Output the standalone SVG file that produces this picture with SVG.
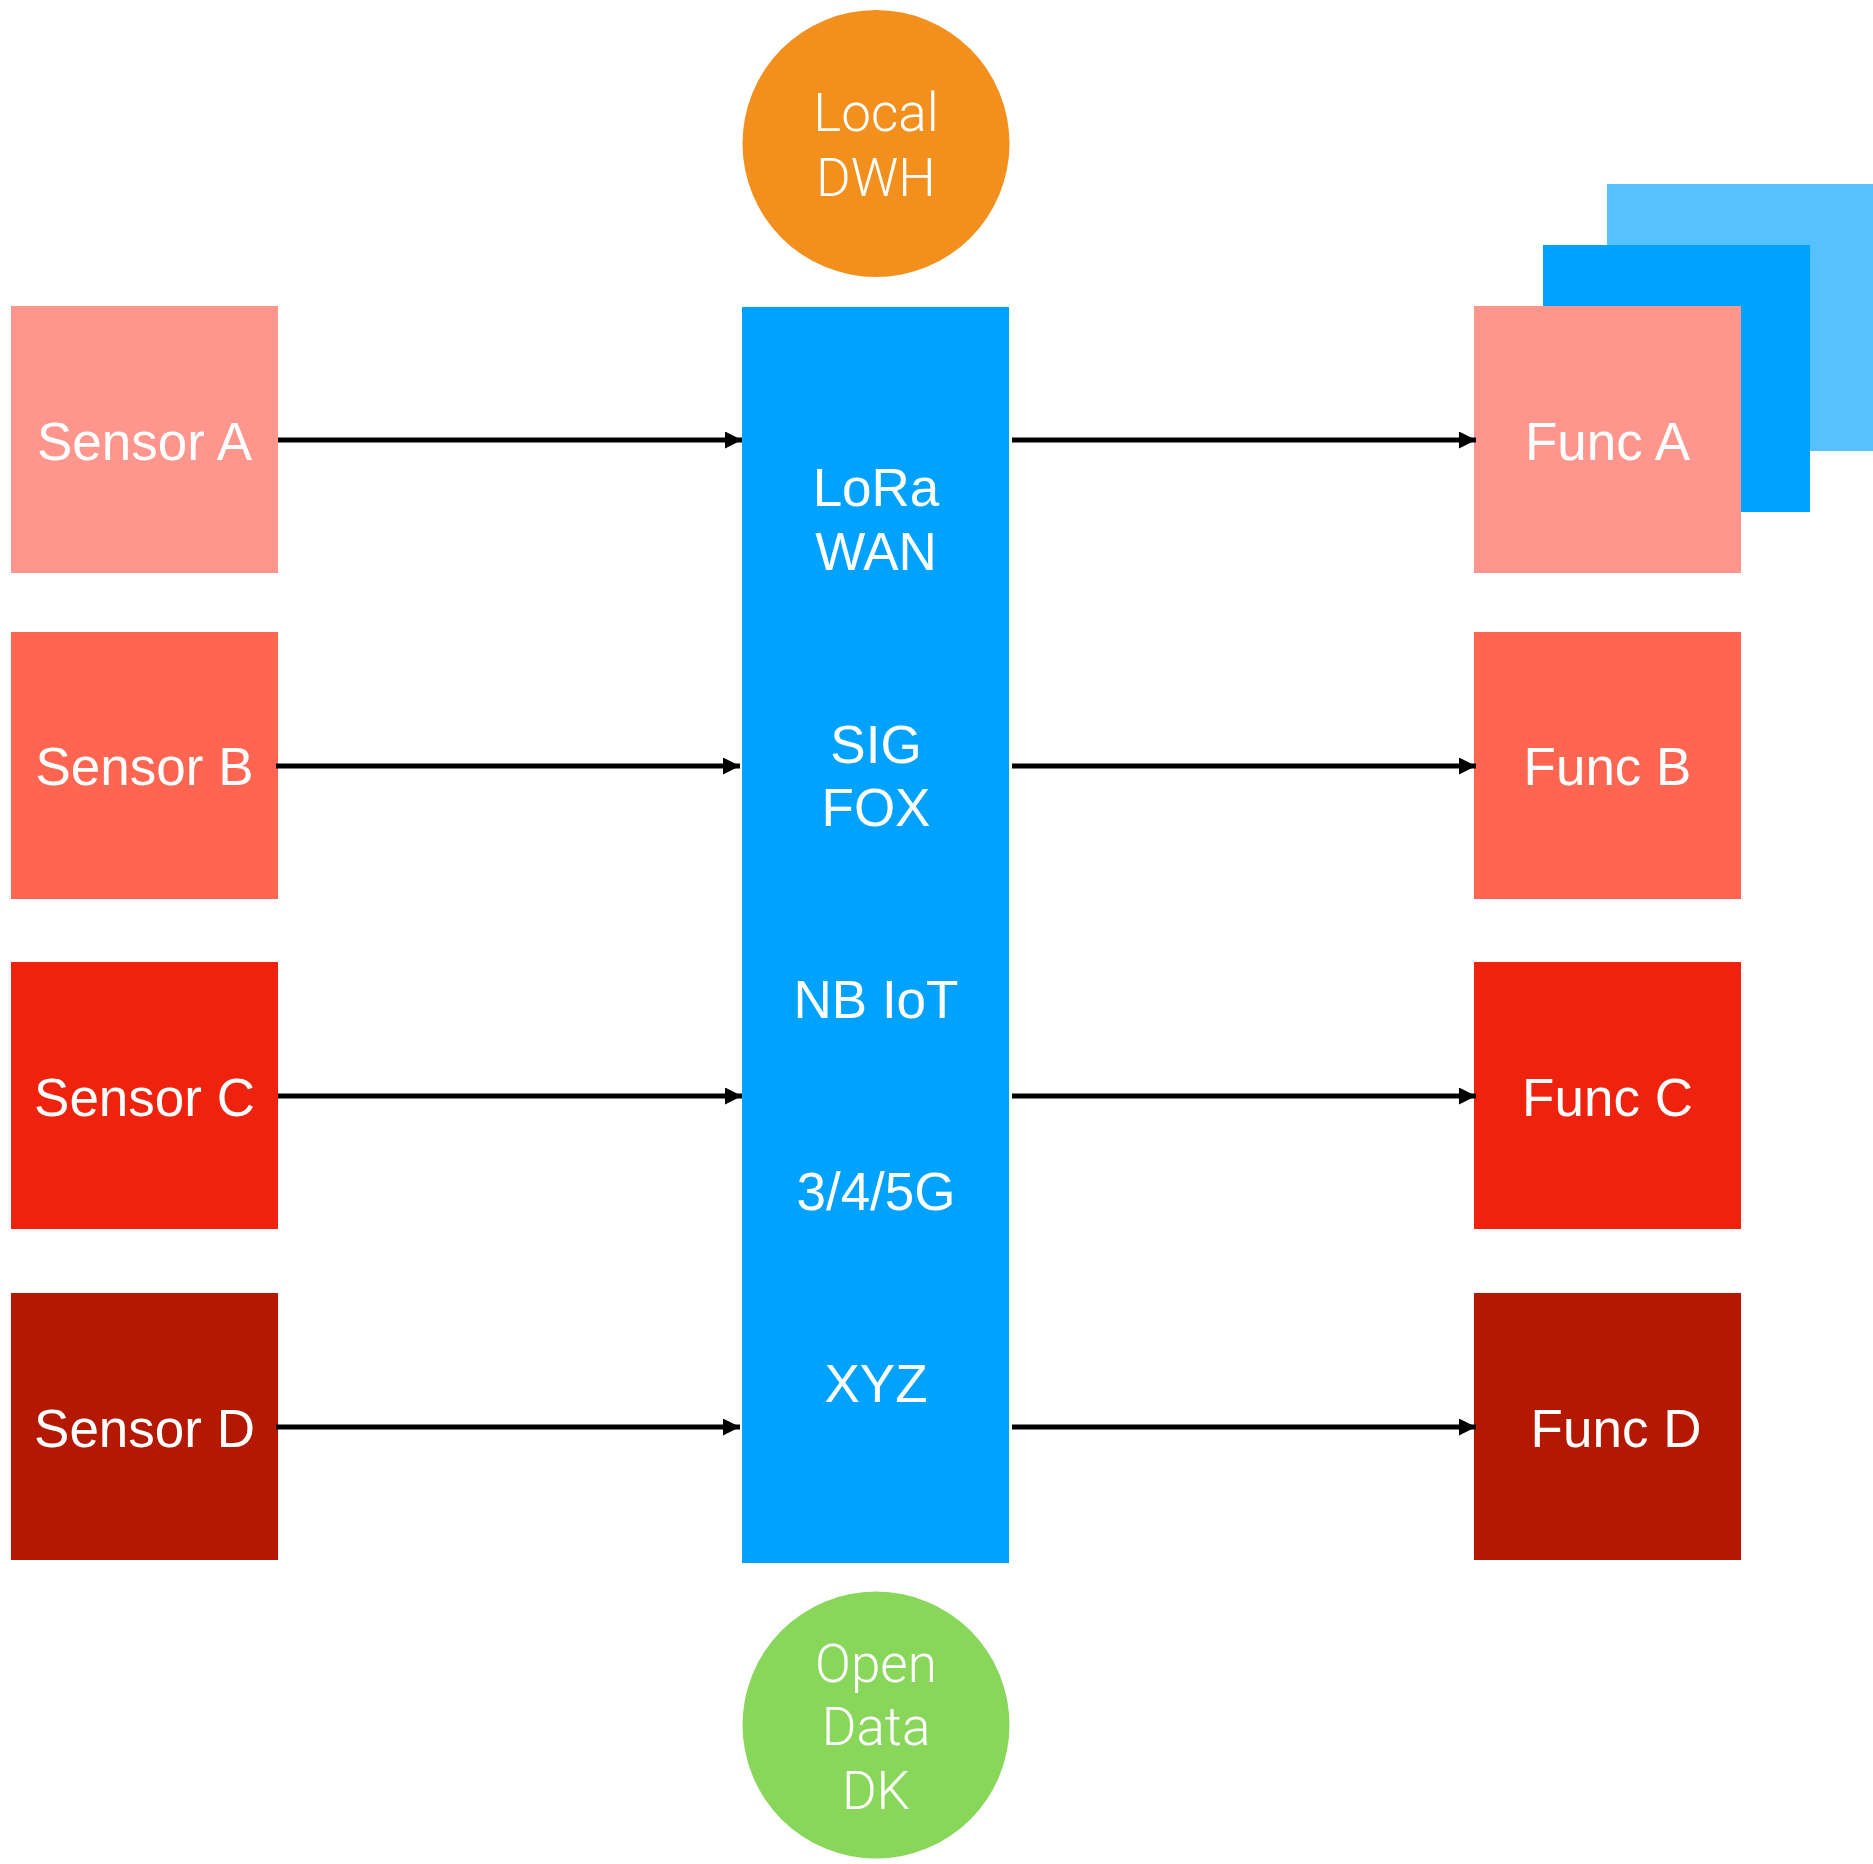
<svg xmlns="http://www.w3.org/2000/svg" width="1873" height="1864" viewBox="0 0 1873 1864">
<style>
.lbl{font-family:"Liberation Sans",Arial,Helvetica,sans-serif;font-size:53px;fill:#ffffff;text-anchor:middle}
.thin{font-family:Roboto,Inter,"Liberation Sans",sans-serif;font-weight:300;font-size:53px;fill:#ffffff;text-anchor:middle}
.conn{stroke:#000000;stroke-width:5;fill:none;marker-end:url(#arrow)}
</style>
<defs>
<marker id="arrow" markerUnits="userSpaceOnUse" markerWidth="18" markerHeight="17" refX="17" refY="8.5" orient="auto">
<path d="M0,0 L17,8.5 L0,17 z" fill="#000000"/>
</marker>
</defs>
<rect width="1873" height="1864" fill="#ffffff"/>

<g id="local-dwh">
<circle cx="876" cy="143.5" r="133.5" fill="#F3901D"/>
<text class="thin" x="876" y="131">Local</text>
<text class="thin" x="876" y="196">DWH</text>
</g>

<g id="network">
<rect x="742" y="307" width="267" height="1256" fill="#00A2FF"/>
<text class="lbl" x="876" y="506">LoRa</text>
<text class="lbl" x="876" y="570">WAN</text>
<text class="lbl" x="876" y="763">SIG</text>
<text class="lbl" x="876" y="826">FOX</text>
<text class="lbl" x="876" y="1018">NB IoT</text>
<text class="lbl" x="876" y="1210">3/4/5G</text>
<text class="lbl" x="876" y="1402">XYZ</text>
</g>

<g id="open-data-dk">
<circle cx="876" cy="1725" r="133.5" fill="#88D65A"/>
<text class="thin" x="876" y="1682">Open</text>
<text class="thin" x="876" y="1745">Data</text>
<text class="thin" x="876" y="1809">DK</text>
</g>

<g id="sensor-a">
<rect x="11" y="306" width="267" height="267" fill="#FE968D"/>
<text class="lbl" x="144.5" y="460">Sensor A</text>
</g>
<g id="sensor-b">
<rect x="11" y="632" width="267" height="267" fill="#FF6550"/>
<text class="lbl" x="144.5" y="785">Sensor B</text>
</g>
<g id="sensor-c">
<rect x="11" y="962" width="267" height="267" fill="#EE220D"/>
<text class="lbl" x="144.5" y="1116">Sensor C</text>
</g>
<g id="sensor-d">
<rect x="11" y="1293" width="267" height="267" fill="#B51800"/>
<text class="lbl" x="144.5" y="1447">Sensor D</text>
</g>

<g id="func-a-stack">
<rect x="1607" y="184" width="267" height="267" fill="#56C1FF"/>
<rect x="1543" y="245" width="267" height="267" fill="#00A2FF"/>
</g>
<g id="func-a">
<rect x="1474" y="306" width="267" height="267" fill="#FE968D"/>
<text class="lbl" x="1607.5" y="460">Func A</text>
</g>
<g id="func-b">
<rect x="1474" y="632" width="267" height="267" fill="#FF6550"/>
<text class="lbl" x="1607.5" y="785">Func B</text>
</g>
<g id="func-c">
<rect x="1474" y="962" width="267" height="267" fill="#EE220D"/>
<text class="lbl" x="1607.5" y="1116">Func C</text>
</g>
<g id="func-d">
<rect x="1474" y="1293" width="267" height="267" fill="#B51800"/>
<text class="lbl" x="1616" y="1447">Func D</text>
</g>

<g id="connectors">
<line class="conn" x1="278" y1="440" x2="742" y2="440"/>
<line class="conn" x1="276" y1="766" x2="740" y2="766"/>
<line class="conn" x1="278" y1="1096" x2="742" y2="1096"/>
<line class="conn" x1="276" y1="1427" x2="740" y2="1427"/>
<line class="conn" x1="1012" y1="440" x2="1476" y2="440"/>
<line class="conn" x1="1012" y1="766" x2="1476" y2="766"/>
<line class="conn" x1="1012" y1="1096" x2="1476" y2="1096"/>
<line class="conn" x1="1012" y1="1427" x2="1476" y2="1427"/>
</g>
</svg>
